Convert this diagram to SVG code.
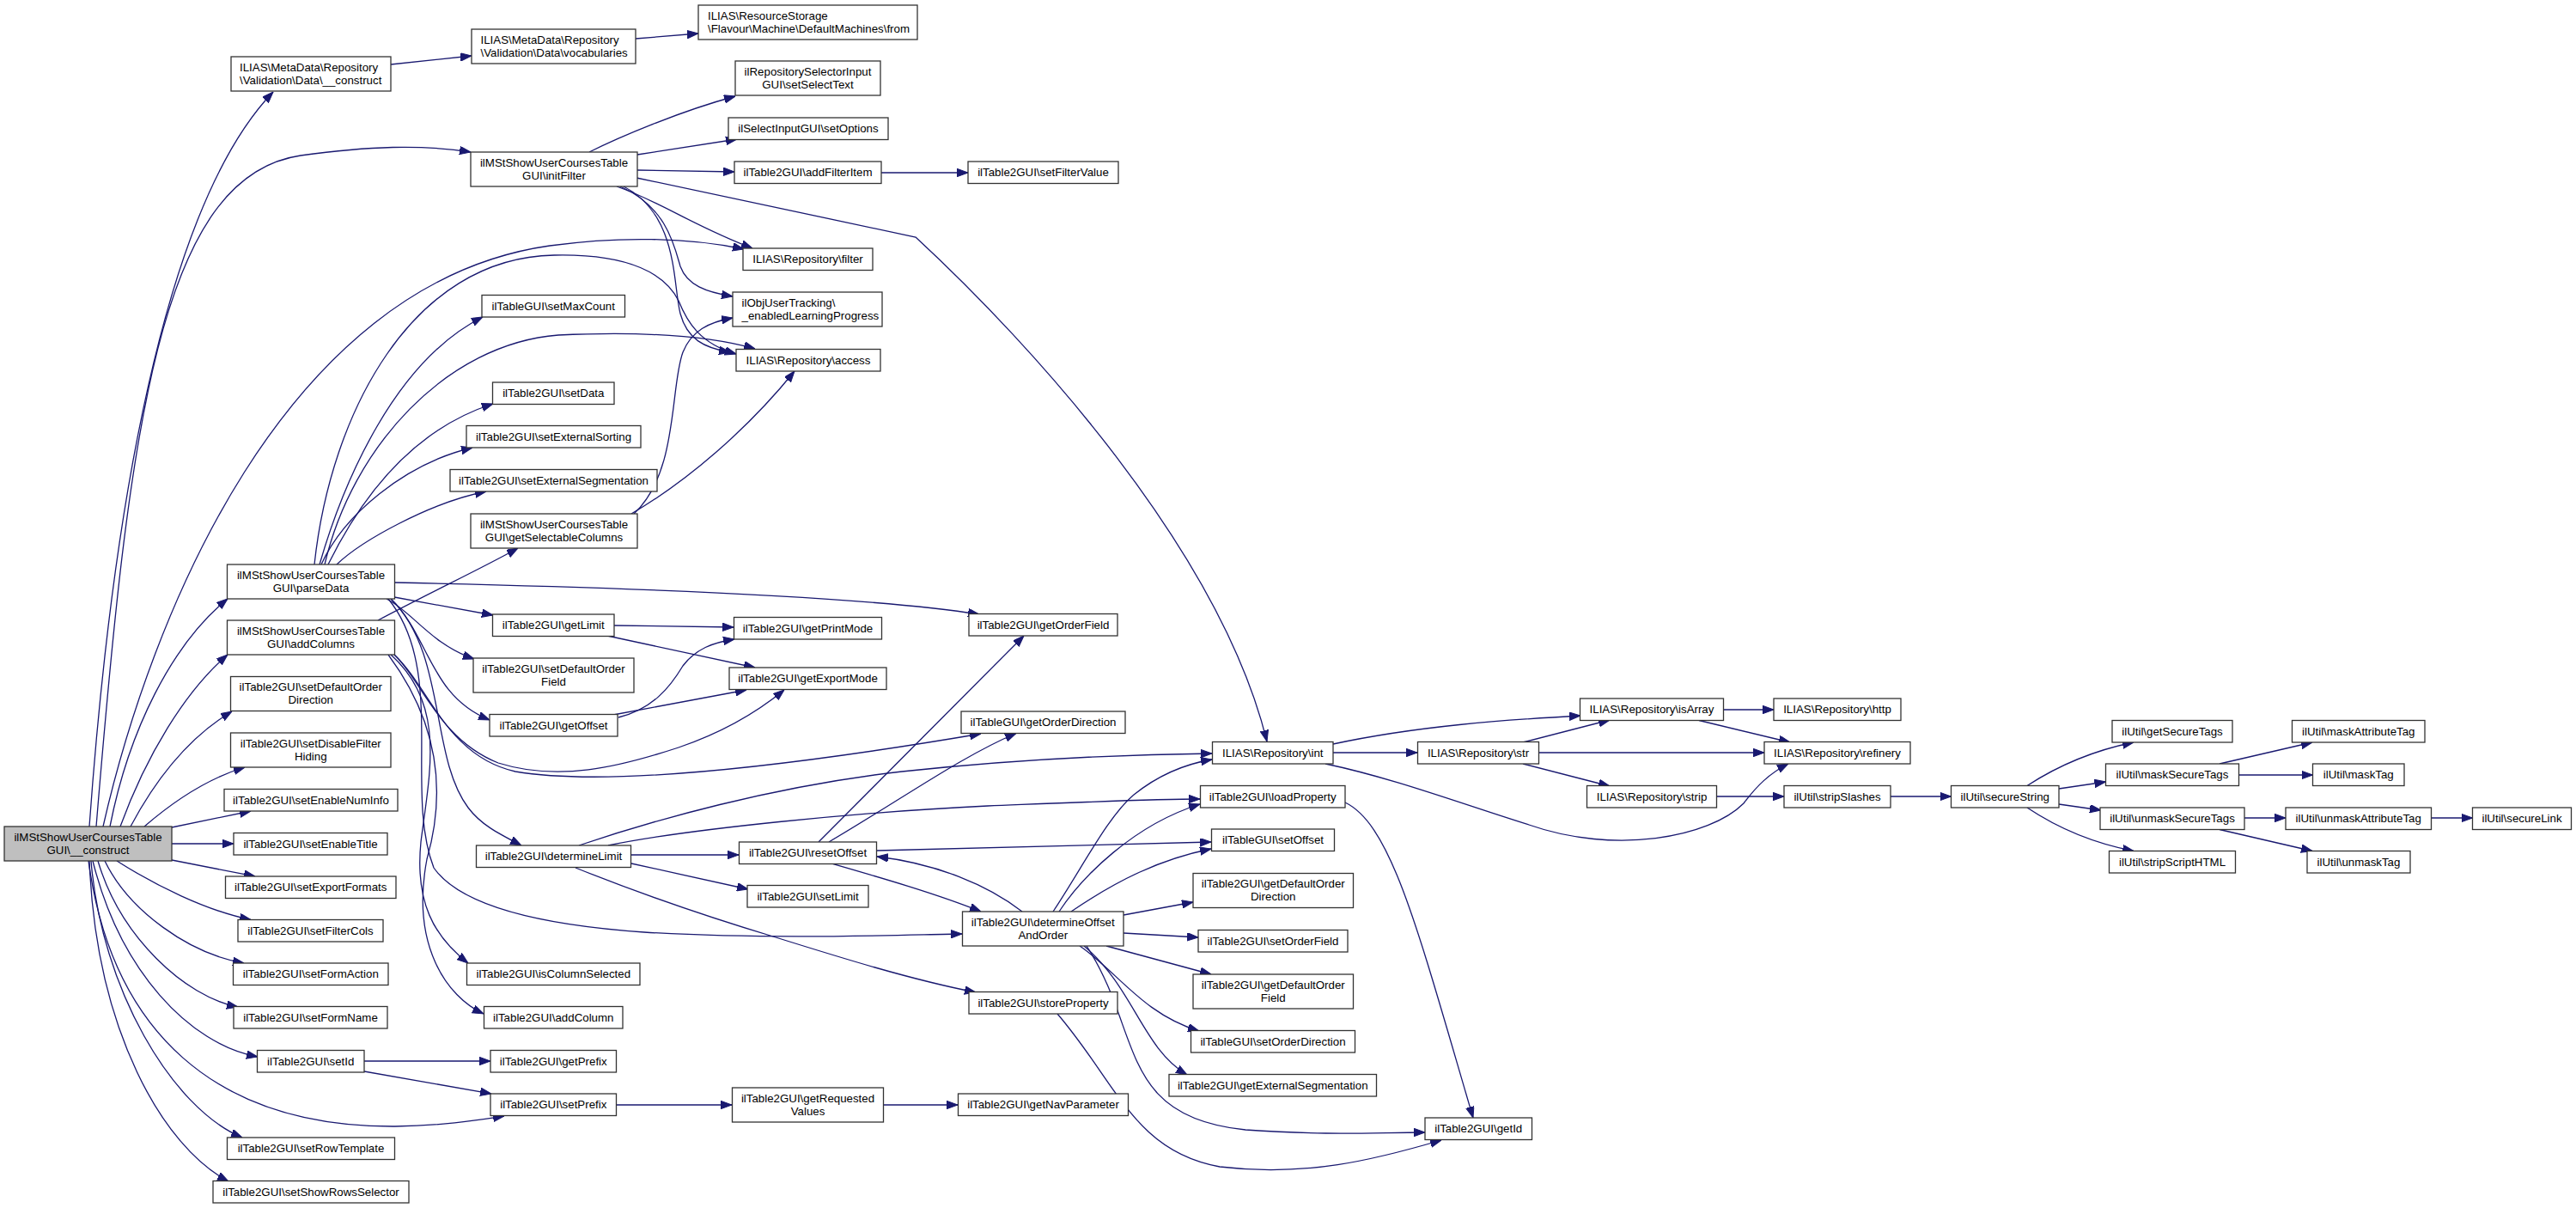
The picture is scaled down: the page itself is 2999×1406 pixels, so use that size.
<svg xmlns="http://www.w3.org/2000/svg" width="2999" height="1406" viewBox="0 0 2999 1406">
<style>
.n rect{fill:#fff;stroke:#333;stroke-width:1.3}
.n text{font-family:"Liberation Sans",Arial,sans-serif;font-size:13.3px;fill:#000;text-anchor:middle}
.n text.l{text-anchor:start}
#n_root rect{fill:#bfbfbf}
.e path{fill:none;stroke:#191970;stroke-width:1.3;marker-end:url(#a)}
</style>
<defs>
<marker id="a" markerUnits="userSpaceOnUse" markerWidth="13" markerHeight="10" refX="13" refY="4.75" orient="auto"><path d="M0,0 L13,4.75 L0,9.5 z" fill="#191970" stroke="#191970" stroke-width="1"/></marker>
</defs>
<rect width="2999" height="1406" fill="#fff"/>
<g id="edges" class="e">
<path d="M104,962 C130,600 190,240 318,107"/>
<path d="M112,962 C150,500 185,205 350,181 C430,170 490,168 548,177"/>
<path d="M120,962 C175,720 330,330 640,286 C720,275 800,276 866,290"/>
<path d="M128,962 C150,850 200,750 265,697"/>
<path d="M140,962 C170,880 215,805 265,762"/>
<path d="M152,962 C185,900 225,855 270,828"/>
<path d="M168,962 C205,930 245,905 285,893"/>
<path d="M200,963 L292,944"/>
<path d="M200,982 L272,982"/>
<path d="M200,1001 L297,1020"/>
<path d="M136,1002 C180,1030 240,1060 292,1070.5"/>
<path d="M122,1002 C150,1060 220,1110 284,1121"/>
<path d="M114,1002 C140,1090 215,1160 277,1172"/>
<path d="M108,1002 C140,1130 220,1215 300,1230"/>
<path d="M103,1002 C130,1200 250,1312 460,1311 C520,1310 560,1303 587,1299"/>
<path d="M106,1002 C118,1150 200,1290 282,1324"/>
<path d="M104,1002 C112,1200 190,1335 266,1375"/>
<path d="M455,75 L549,65"/>
<path d="M740,45 L813,39"/>
<path d="M686,177 C720,160 790,130 856,112"/>
<path d="M742,180 L858,162"/>
<path d="M742,198 L855,200"/>
<path d="M1026,201 L1127,201"/>
<path d="M741,207 L1066,276 C1200,400 1420,640 1475,863"/>
<path d="M718,217 C770,235 805,262 876,289"/>
<path d="M722,217 C775,240 785,285 792,310 C800,332 822,340 853,345"/>
<path d="M726,217 C790,250 783,330 792,365 C800,395 820,405 850,410"/>
<path d="M738,598 C790,550 780,450 795,410 C805,385 825,375 853,370"/>
<path d="M735,598 C800,560 870,500 925,432"/>
<path d="M372,657 C400,560 460,420 562,369"/>
<path d="M382,657 C420,580 480,500 574,470"/>
<path d="M366,657 C385,480 480,300 645,297 C735,295 775,320 790,350 C800,375 815,400 857,412"/>
<path d="M378,657 C410,520 520,400 650,390 C760,385 830,392 879,406"/>
<path d="M374,657 C400,600 470,540 550,521"/>
<path d="M392,657 C420,630 500,585 566,572"/>
<path d="M459,695 L574,716"/>
<path d="M450,697 C480,712 502,750 552,767"/>
<path d="M455,697 C500,740 500,810 570,838"/>
<path d="M459,678 C700,683 1000,693 1140,715"/>
<path d="M455,697 C520,760 500,880 545,940 C560,960 580,970 607,984"/>
<path d="M452,697 C520,780 470,920 505,1010 C540,1060 650,1078 750,1085 C900,1094 1050,1088 1120,1087"/>
<path d="M440,722 C500,690 560,662 603,638"/>
<path d="M455,762 C520,820 500,900 490,980 C483,1050 505,1090 545,1121"/>
<path d="M452,762 C510,840 520,920 497,1000 C478,1100 520,1160 563,1180"/>
<path d="M459,762 C490,790 510,860 580,888 C650,910 720,893 790,870 C840,853 880,830 913,803"/>
<path d="M459,762 C500,800 520,880 600,898 C700,915 900,895 1142,854"/>
<path d="M424,1235 L571,1235"/>
<path d="M424,1247 L572,1273"/>
<path d="M717,1286 L852,1286"/>
<path d="M1028,1286 L1115,1286"/>
<path d="M715,728 L854,730"/>
<path d="M707,740 L879,777"/>
<path d="M720,835 C760,825 780,800 795,775 C810,755 830,748 855,744"/>
<path d="M714,832 L869,803"/>
<path d="M674,984 C760,955 900,915 1050,898 C1200,882 1320,878 1411,877"/>
<path d="M708,984 C800,965 1000,945 1150,938 C1250,934 1340,930 1397,930"/>
<path d="M735,995 L860,995"/>
<path d="M735,1005 L871,1035"/>
<path d="M670,1010 C720,1030 800,1060 900,1090 C980,1115 1060,1140 1136,1155"/>
<path d="M953,980 L1192,740"/>
<path d="M965,980 C1050,930 1120,880 1183,853.5"/>
<path d="M1021,990 L1410,980"/>
<path d="M968,1005 C1020,1020 1090,1040 1142,1061"/>
<path d="M1190,1061 C1150,1030 1090,1005 1021,997"/>
<path d="M1247,1061 C1300,1025 1350,1000 1410,988"/>
<path d="M1233,1061 C1260,1020 1320,960 1397,936"/>
<path d="M1226,1061 C1260,1010 1290,950 1320,925 C1345,905 1375,890 1411,884"/>
<path d="M1308,1065 L1389,1050"/>
<path d="M1308,1086 L1395,1091"/>
<path d="M1288,1101 L1410,1134"/>
<path d="M1257,1101 C1300,1130 1330,1180 1396,1200"/>
<path d="M1262,1101 C1320,1150 1330,1220 1382,1251"/>
<path d="M1265,1101 C1330,1200 1300,1300 1450,1315 C1550,1322 1600,1318 1659,1318"/>
<path d="M1231,1180 C1300,1260 1320,1340 1420,1358 C1520,1370 1600,1350 1678,1327"/>
<path d="M1566,934 C1620,960 1650,1080 1715,1301"/>
<path d="M1552,866 C1650,845 1750,838 1840,833"/>
<path d="M1552,876 L1650,876"/>
<path d="M1543,889 C1620,905 1700,935 1780,960 C1880,995 1990,975 2030,935 C2045,915 2060,900 2082,889"/>
<path d="M1773,864 L1874,838"/>
<path d="M1792,876 L2054,876"/>
<path d="M1773,889 L1874,915"/>
<path d="M2006.5,826 L2065,826"/>
<path d="M1978,838.5 L2084,864"/>
<path d="M1998,927 L2077,927"/>
<path d="M2201,927 L2271.5,927"/>
<path d="M2360,914.5 C2390,895 2430,875 2484,864"/>
<path d="M2397,918 L2451.5,910"/>
<path d="M2397,936 L2446,943"/>
<path d="M2360,940 C2390,960 2430,980 2484,990.5"/>
<path d="M2584,889 L2692,864"/>
<path d="M2606,902 L2692.5,902"/>
<path d="M2613,952 L2661,952"/>
<path d="M2830.5,952 L2878.5,952"/>
<path d="M2584,965.5 L2692,990.5"/>
</g>
<g id="n_root" class="n"><rect x="5" y="962" width="195" height="40"/><text x="102.5" y="978.5">ilMStShowUserCoursesTable</text><text x="102.5" y="993.5">GUI\__construct</text></g>
<g id="n_dataConstruct" class="n"><rect x="269" y="66" width="186" height="40"/><text class="l" x="279" y="82.5">ILIAS\MetaData\Repository</text><text class="l" x="279" y="97.5">\Validation\Data\__construct</text></g>
<g id="n_vocabularies" class="n"><rect x="549" y="34" width="191" height="40"/><text class="l" x="559.5" y="50.5">ILIAS\MetaData\Repository</text><text class="l" x="559.5" y="65.5">\Validation\Data\vocabularies</text></g>
<g id="n_from" class="n"><rect x="813" y="6" width="255" height="40"/><text class="l" x="824" y="22.5">ILIAS\ResourceStorage</text><text class="l" x="824" y="37.5">\Flavour\Machine\DefaultMachines\from</text></g>
<g id="n_initFilter" class="n"><rect x="548" y="177" width="194" height="40"/><text x="645" y="193.5">ilMStShowUserCoursesTable</text><text x="645" y="208.5">GUI\initFilter</text></g>
<g id="n_setSelectText" class="n"><rect x="856" y="71" width="169" height="40"/><text x="940.5" y="87.5">ilRepositorySelectorInput</text><text x="940.5" y="102.5">GUI\setSelectText</text></g>
<g id="n_setOptions" class="n"><rect x="848" y="137" width="186" height="25.5"/><text x="941" y="154">ilSelectInputGUI\setOptions</text></g>
<g id="n_addFilterItem" class="n"><rect x="855" y="188" width="171" height="25.5"/><text x="940.5" y="205">ilTable2GUI\addFilterItem</text></g>
<g id="n_setFilterValue" class="n"><rect x="1127" y="188" width="175" height="25.5"/><text x="1214.5" y="205">ilTable2GUI\setFilterValue</text></g>
<g id="n_filter" class="n"><rect x="865" y="289" width="151" height="25.5"/><text x="940.5" y="306">ILIAS\Repository\filter</text></g>
<g id="n_enabledLP" class="n"><rect x="853" y="340" width="174" height="40"/><text class="l" x="863.5" y="356.5">ilObjUserTracking\</text><text class="l" x="863.5" y="371.5">_enabledLearningProgress</text></g>
<g id="n_access" class="n"><rect x="857" y="406.5" width="168" height="25.5"/><text x="941" y="423.5">ILIAS\Repository\access</text></g>
<g id="n_setMaxCount" class="n"><rect x="561" y="343.5" width="166.5" height="25.5"/><text x="644.25" y="360.5">ilTableGUI\setMaxCount</text></g>
<g id="n_setData" class="n"><rect x="573.5" y="445" width="141.5" height="25.5"/><text x="644.25" y="462">ilTable2GUI\setData</text></g>
<g id="n_setExternalSorting" class="n"><rect x="543" y="495.5" width="203" height="25.5"/><text x="644.5" y="512.5">ilTable2GUI\setExternalSorting</text></g>
<g id="n_setExternalSegmentation" class="n"><rect x="524" y="546.5" width="241" height="25.5"/><text x="644.5" y="563.5">ilTable2GUI\setExternalSegmentation</text></g>
<g id="n_getSelectableColumns" class="n"><rect x="548" y="598" width="194" height="40"/><text x="645" y="614.5">ilMStShowUserCoursesTable</text><text x="645" y="629.5">GUI\getSelectableColumns</text></g>
<g id="n_parseData" class="n"><rect x="264.5" y="657" width="195" height="40"/><text x="362" y="673.5">ilMStShowUserCoursesTable</text><text x="362" y="688.5">GUI\parseData</text></g>
<g id="n_addColumns" class="n"><rect x="264.5" y="722" width="195" height="40"/><text x="362" y="738.5">ilMStShowUserCoursesTable</text><text x="362" y="753.5">GUI\addColumns</text></g>
<g id="n_setDefaultOrderDirection" class="n"><rect x="268.5" y="787.5" width="186.5" height="40"/><text x="361.75" y="804">ilTable2GUI\setDefaultOrder</text><text x="361.75" y="819">Direction</text></g>
<g id="n_setDisableFilterHiding" class="n"><rect x="268.5" y="853" width="186.5" height="40"/><text x="361.75" y="869.5">ilTable2GUI\setDisableFilter</text><text x="361.75" y="884.5">Hiding</text></g>
<g id="n_setEnableNumInfo" class="n"><rect x="261" y="918.5" width="202" height="25.5"/><text x="362" y="935.5">ilTable2GUI\setEnableNumInfo</text></g>
<g id="n_setEnableTitle" class="n"><rect x="272" y="969.5" width="179" height="25.5"/><text x="361.5" y="986.5">ilTable2GUI\setEnableTitle</text></g>
<g id="n_setExportFormats" class="n"><rect x="262.5" y="1020" width="198.5" height="25.5"/><text x="361.75" y="1037">ilTable2GUI\setExportFormats</text></g>
<g id="n_setFilterCols" class="n"><rect x="277" y="1070.5" width="169" height="25.5"/><text x="361.5" y="1087.5">ilTable2GUI\setFilterCols</text></g>
<g id="n_setFormAction" class="n"><rect x="271.5" y="1121" width="180.5" height="25.5"/><text x="361.75" y="1138">ilTable2GUI\setFormAction</text></g>
<g id="n_setFormName" class="n"><rect x="272" y="1171.5" width="179" height="25.5"/><text x="361.5" y="1188.5">ilTable2GUI\setFormName</text></g>
<g id="n_setId" class="n"><rect x="299.5" y="1222.5" width="124.5" height="25.5"/><text x="361.75" y="1239.5">ilTable2GUI\setId</text></g>
<g id="n_setRowTemplate" class="n"><rect x="264.5" y="1324" width="195" height="25.5"/><text x="362" y="1341">ilTable2GUI\setRowTemplate</text></g>
<g id="n_setShowRowsSelector" class="n"><rect x="248" y="1374.5" width="228" height="25.5"/><text x="362" y="1391.5">ilTable2GUI\setShowRowsSelector</text></g>
<g id="n_getLimit" class="n"><rect x="573.5" y="715" width="141.5" height="25.5"/><text x="644.25" y="732">ilTable2GUI\getLimit</text></g>
<g id="n_setDefaultOrderField" class="n"><rect x="551" y="766" width="187" height="40"/><text x="644.5" y="782.5">ilTable2GUI\setDefaultOrder</text><text x="644.5" y="797.5">Field</text></g>
<g id="n_getOffset" class="n"><rect x="570" y="831.5" width="149" height="25.5"/><text x="644.5" y="848.5">ilTable2GUI\getOffset</text></g>
<g id="n_determineLimit" class="n"><rect x="554.5" y="984" width="180" height="25.5"/><text x="644.5" y="1001">ilTable2GUI\determineLimit</text></g>
<g id="n_isColumnSelected" class="n"><rect x="543.5" y="1121" width="201.5" height="25.5"/><text x="644.25" y="1138">ilTable2GUI\isColumnSelected</text></g>
<g id="n_addColumn" class="n"><rect x="563.5" y="1171.5" width="161.5" height="25.5"/><text x="644.25" y="1188.5">ilTable2GUI\addColumn</text></g>
<g id="n_getPrefix" class="n"><rect x="571" y="1222.5" width="146.5" height="25.5"/><text x="644.25" y="1239.5">ilTable2GUI\getPrefix</text></g>
<g id="n_setPrefix" class="n"><rect x="571" y="1273" width="146.5" height="25.5"/><text x="644.25" y="1290">ilTable2GUI\setPrefix</text></g>
<g id="n_getPrintMode" class="n"><rect x="854.5" y="718.5" width="172" height="25.5"/><text x="940.5" y="735.5">ilTable2GUI\getPrintMode</text></g>
<g id="n_getExportMode" class="n"><rect x="849" y="777" width="183" height="25.5"/><text x="940.5" y="794">ilTable2GUI\getExportMode</text></g>
<g id="n_getOrderField" class="n"><rect x="1128" y="714.5" width="173" height="25.5"/><text x="1214.5" y="731.5">ilTable2GUI\getOrderField</text></g>
<g id="n_getOrderDirection" class="n"><rect x="1119" y="828" width="191" height="25.5"/><text x="1214.5" y="845">ilTableGUI\getOrderDirection</text></g>
<g id="n_resetOffset" class="n"><rect x="860.5" y="980" width="160" height="25.5"/><text x="940.5" y="997">ilTable2GUI\resetOffset</text></g>
<g id="n_setLimit" class="n"><rect x="870" y="1030.5" width="141" height="25.5"/><text x="940.5" y="1047.5">ilTable2GUI\setLimit</text></g>
<g id="n_determineOffsetAndOrder" class="n"><rect x="1120.5" y="1061" width="187.5" height="40"/><text x="1214.25" y="1077.5">ilTable2GUI\determineOffset</text><text x="1214.25" y="1092.5">AndOrder</text></g>
<g id="n_storeProperty" class="n"><rect x="1128" y="1154.5" width="173" height="25.5"/><text x="1214.5" y="1171.5">ilTable2GUI\storeProperty</text></g>
<g id="n_getRequestedValues" class="n"><rect x="852.5" y="1266" width="176" height="40"/><text x="940.5" y="1282.5">ilTable2GUI\getRequested</text><text x="940.5" y="1297.5">Values</text></g>
<g id="n_getNavParameter" class="n"><rect x="1115.5" y="1273" width="198" height="25.5"/><text x="1214.5" y="1290">ilTable2GUI\getNavParameter</text></g>
<g id="n_int" class="n"><rect x="1411.5" y="863.5" width="140.5" height="25.5"/><text x="1481.75" y="880.5">ILIAS\Repository\int</text></g>
<g id="n_loadProperty" class="n"><rect x="1397.5" y="914.5" width="168.5" height="25.5"/><text x="1481.75" y="931.5">ilTable2GUI\loadProperty</text></g>
<g id="n_setOffset" class="n"><rect x="1410.5" y="965" width="143" height="25.5"/><text x="1482" y="982">ilTableGUI\setOffset</text></g>
<g id="n_getDefaultOrderDirection" class="n"><rect x="1389" y="1016.5" width="186.5" height="40"/><text x="1482.25" y="1033">ilTable2GUI\getDefaultOrder</text><text x="1482.25" y="1048">Direction</text></g>
<g id="n_setOrderField" class="n"><rect x="1395" y="1082.5" width="174" height="25.5"/><text x="1482" y="1099.5">ilTable2GUI\setOrderField</text></g>
<g id="n_getDefaultOrderField" class="n"><rect x="1389" y="1134" width="186.5" height="40"/><text x="1482.25" y="1150.5">ilTable2GUI\getDefaultOrder</text><text x="1482.25" y="1165.5">Field</text></g>
<g id="n_setOrderDirection" class="n"><rect x="1386.5" y="1199.5" width="191" height="25.5"/><text x="1482" y="1216.5">ilTableGUI\setOrderDirection</text></g>
<g id="n_getExternalSegmentation" class="n"><rect x="1361" y="1250.5" width="241.5" height="25.5"/><text x="1481.75" y="1267.5">ilTable2GUI\getExternalSegmentation</text></g>
<g id="n_getId" class="n"><rect x="1659" y="1301" width="124.5" height="25.5"/><text x="1721.25" y="1318">ilTable2GUI\getId</text></g>
<g id="n_isArray" class="n"><rect x="1839.5" y="813" width="167" height="25.5"/><text x="1923" y="830">ILIAS\Repository\isArray</text></g>
<g id="n_http" class="n"><rect x="2065" y="813" width="148" height="25.5"/><text x="2139" y="830">ILIAS\Repository\http</text></g>
<g id="n_str" class="n"><rect x="1650.5" y="863.5" width="141" height="25.5"/><text x="1721" y="880.5">ILIAS\Repository\str</text></g>
<g id="n_refinery" class="n"><rect x="2054" y="863.5" width="170" height="25.5"/><text x="2139" y="880.5">ILIAS\Repository\refinery</text></g>
<g id="n_strip" class="n"><rect x="1847.5" y="914.5" width="151" height="25.5"/><text x="1923" y="931.5">ILIAS\Repository\strip</text></g>
<g id="n_stripSlashes" class="n"><rect x="2077" y="914.5" width="124" height="25.5"/><text x="2139" y="931.5">ilUtil\stripSlashes</text></g>
<g id="n_secureString" class="n"><rect x="2271.5" y="914.5" width="125.5" height="25.5"/><text x="2334.25" y="931.5">ilUtil\secureString</text></g>
<g id="n_getSecureTags" class="n"><rect x="2459" y="838.5" width="140" height="25.5"/><text x="2529" y="855.5">ilUtil\getSecureTags</text></g>
<g id="n_maskSecureTags" class="n"><rect x="2451.5" y="889" width="155" height="25.5"/><text x="2529" y="906">ilUtil\maskSecureTags</text></g>
<g id="n_unmaskSecureTags" class="n"><rect x="2445" y="940" width="168" height="25.5"/><text x="2529" y="957">ilUtil\unmaskSecureTags</text></g>
<g id="n_stripScriptHTML" class="n"><rect x="2455.5" y="990.5" width="147" height="25.5"/><text x="2529" y="1007.5">ilUtil\stripScriptHTML</text></g>
<g id="n_maskAttributeTag" class="n"><rect x="2668.5" y="838.5" width="154.5" height="25.5"/><text x="2745.75" y="855.5">ilUtil\maskAttributeTag</text></g>
<g id="n_maskTag" class="n"><rect x="2692.5" y="889" width="106.5" height="25.5"/><text x="2745.75" y="906">ilUtil\maskTag</text></g>
<g id="n_unmaskAttributeTag" class="n"><rect x="2661" y="940" width="169.5" height="25.5"/><text x="2745.75" y="957">ilUtil\unmaskAttributeTag</text></g>
<g id="n_secureLink" class="n"><rect x="2878.5" y="940" width="115" height="25.5"/><text x="2936" y="957">ilUtil\secureLink</text></g>
<g id="n_unmaskTag" class="n"><rect x="2686" y="990.5" width="120" height="25.5"/><text x="2746" y="1007.5">ilUtil\unmaskTag</text></g>
</svg>
